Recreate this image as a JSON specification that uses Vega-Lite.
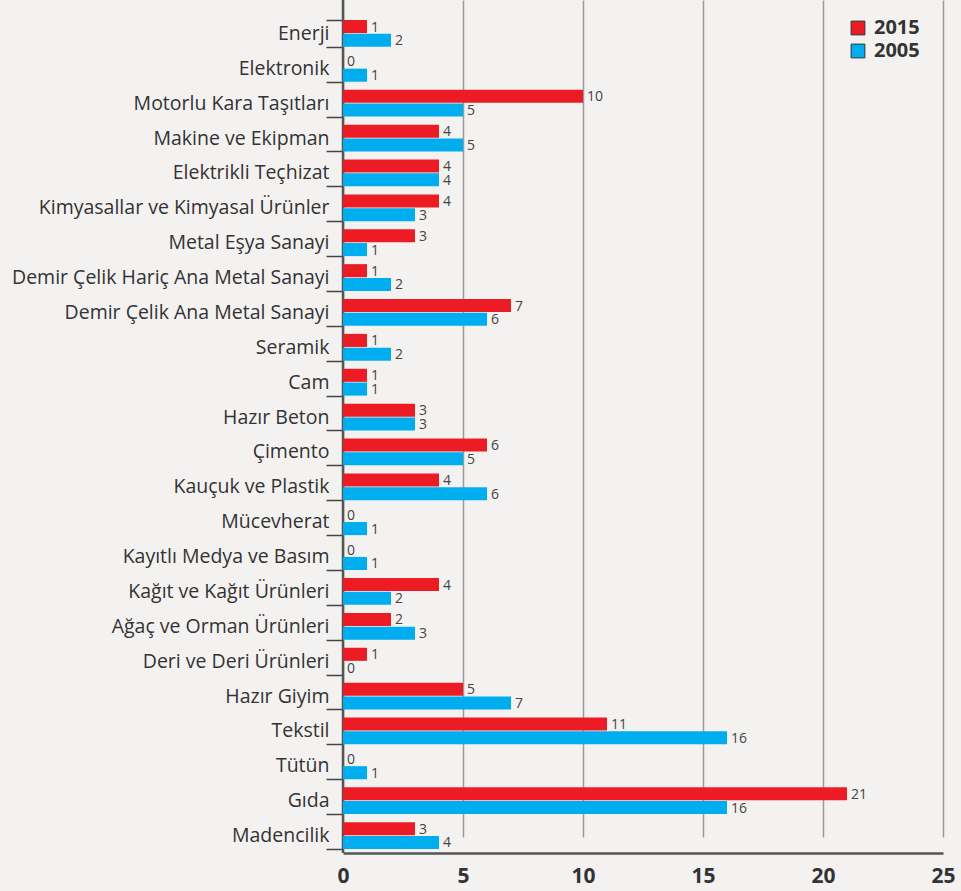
{
  "$schema": "https://vega.github.io/schema/vega-lite/v6.json",
  "width": 600,
  "height": 853,
  "autosize": {"type": "none"},
  "padding": {"left": 343, "top": 0, "right": 18, "bottom": 38},
  "background": "#f3f2f1",
  "config": {
    "view": {"stroke": null},
    "font": "Open Sans"
  },
  "data": {
    "values": [
      {"sector": "Enerji", "year": "2015", "value": 1},
      {"sector": "Enerji", "year": "2005", "value": 2},
      {"sector": "Elektronik", "year": "2015", "value": 0},
      {"sector": "Elektronik", "year": "2005", "value": 1},
      {"sector": "Motorlu Kara Taşıtları", "year": "2015", "value": 10},
      {"sector": "Motorlu Kara Taşıtları", "year": "2005", "value": 5},
      {"sector": "Makine ve Ekipman", "year": "2015", "value": 4},
      {"sector": "Makine ve Ekipman", "year": "2005", "value": 5},
      {"sector": "Elektrikli Teçhizat", "year": "2015", "value": 4},
      {"sector": "Elektrikli Teçhizat", "year": "2005", "value": 4},
      {"sector": "Kimyasallar ve Kimyasal Ürünler", "year": "2015", "value": 4},
      {"sector": "Kimyasallar ve Kimyasal Ürünler", "year": "2005", "value": 3},
      {"sector": "Metal Eşya Sanayi", "year": "2015", "value": 3},
      {"sector": "Metal Eşya Sanayi", "year": "2005", "value": 1},
      {"sector": "Demir Çelik Hariç Ana Metal Sanayi", "year": "2015", "value": 1},
      {"sector": "Demir Çelik Hariç Ana Metal Sanayi", "year": "2005", "value": 2},
      {"sector": "Demir Çelik Ana Metal Sanayi", "year": "2015", "value": 7},
      {"sector": "Demir Çelik Ana Metal Sanayi", "year": "2005", "value": 6},
      {"sector": "Seramik", "year": "2015", "value": 1},
      {"sector": "Seramik", "year": "2005", "value": 2},
      {"sector": "Cam", "year": "2015", "value": 1},
      {"sector": "Cam", "year": "2005", "value": 1},
      {"sector": "Hazır Beton", "year": "2015", "value": 3},
      {"sector": "Hazır Beton", "year": "2005", "value": 3},
      {"sector": "Çimento", "year": "2015", "value": 6},
      {"sector": "Çimento", "year": "2005", "value": 5},
      {"sector": "Kauçuk ve Plastik", "year": "2015", "value": 4},
      {"sector": "Kauçuk ve Plastik", "year": "2005", "value": 6},
      {"sector": "Mücevherat", "year": "2015", "value": 0},
      {"sector": "Mücevherat", "year": "2005", "value": 1},
      {"sector": "Kayıtlı Medya ve Basım", "year": "2015", "value": 0},
      {"sector": "Kayıtlı Medya ve Basım", "year": "2005", "value": 1},
      {"sector": "Kağıt ve Kağıt Ürünleri", "year": "2015", "value": 4},
      {"sector": "Kağıt ve Kağıt Ürünleri", "year": "2005", "value": 2},
      {"sector": "Ağaç ve Orman Ürünleri", "year": "2015", "value": 2},
      {"sector": "Ağaç ve Orman Ürünleri", "year": "2005", "value": 3},
      {"sector": "Deri ve Deri Ürünleri", "year": "2015", "value": 1},
      {"sector": "Deri ve Deri Ürünleri", "year": "2005", "value": 0},
      {"sector": "Hazır Giyim", "year": "2015", "value": 5},
      {"sector": "Hazır Giyim", "year": "2005", "value": 7},
      {"sector": "Tekstil", "year": "2015", "value": 11},
      {"sector": "Tekstil", "year": "2005", "value": 16},
      {"sector": "Tütün", "year": "2015", "value": 0},
      {"sector": "Tütün", "year": "2005", "value": 1},
      {"sector": "Gıda", "year": "2015", "value": 21},
      {"sector": "Gıda", "year": "2005", "value": 16},
      {"sector": "Madencilik", "year": "2015", "value": 3},
      {"sector": "Madencilik", "year": "2005", "value": 4}
    ]
  },
  "encoding": {
    "y": {
      "field": "sector",
      "type": "nominal",
      "sort": null,
      "title": null,
      "scale": {"range": [16, 853], "paddingInner": 0.23, "paddingOuter": 0.115},
      "axis": {
        "domain": false,
        "tickBand": "extent",
        "tickSize": 17,
        "tickColor": "#444",
        "tickWidth": 1.5,
        "labelPadding": -3,
        "labelFontSize": 19.5,
        "labelColor": "#333",
        "labelFont": "Open Sans",
        "labelLimit": 400
      }
    },
    "yOffset": {
      "field": "year",
      "type": "nominal",
      "sort": ["2015", "2005"],
      "scale": {"paddingInner": 0.05}
    },
    "x": {
      "field": "value",
      "type": "quantitative",
      "title": null,
      "scale": {"domain": [0, 25], "nice": false},
      "axis": {
        "values": [0, 5, 10, 15, 20, 25],
        "grid": true,
        "gridColor": "#9a9a9a",
        "gridWidth": 1.5,
        "domainColor": "#555",
        "domainWidth": 2.5,
        "ticks": false,
        "labelFlush": false,
        "labelPadding": 12,
        "labelFontSize": 21,
        "labelFontWeight": "bold",
        "labelColor": "#333",
        "labelFont": "Open Sans"
      }
    }
  },
  "layer": [
    {
      "mark": {"type": "rule", "color": "#555", "strokeWidth": 2.5},
      "data": {"values": [{"z": 0}]},
      "encoding": {
        "x": {"field": "z", "type": "quantitative"},
        "y": null,
        "yOffset": null
      }
    },
    {
      "mark": {"type": "bar"},
      "encoding": {
        "color": {
          "field": "year",
          "type": "nominal",
          "scale": {"domain": ["2015", "2005"], "range": ["#ed1c24", "#00aeef"]},
          "legend": {
            "title": null,
            "orient": "none",
            "legendX": 505,
            "legendY": 18,
            "symbolType": "square",
            "symbolSize": 190,
            "symbolStrokeColor": "#333",
            "symbolStrokeWidth": 1,
            "labelFontSize": 20,
            "labelFontWeight": "bold",
            "labelColor": "#333",
            "labelFont": "Open Sans",
            "rowPadding": 3,
            "labelOffset": 6
          }
        }
      }
    },
    {
      "mark": {"type": "text", "align": "left", "baseline": "middle", "dx": 4, "dy": 1, "fontSize": 14, "color": "#444", "font": "Open Sans"},
      "encoding": {
        "text": {"field": "value", "type": "quantitative"}
      }
    }
  ]
}
